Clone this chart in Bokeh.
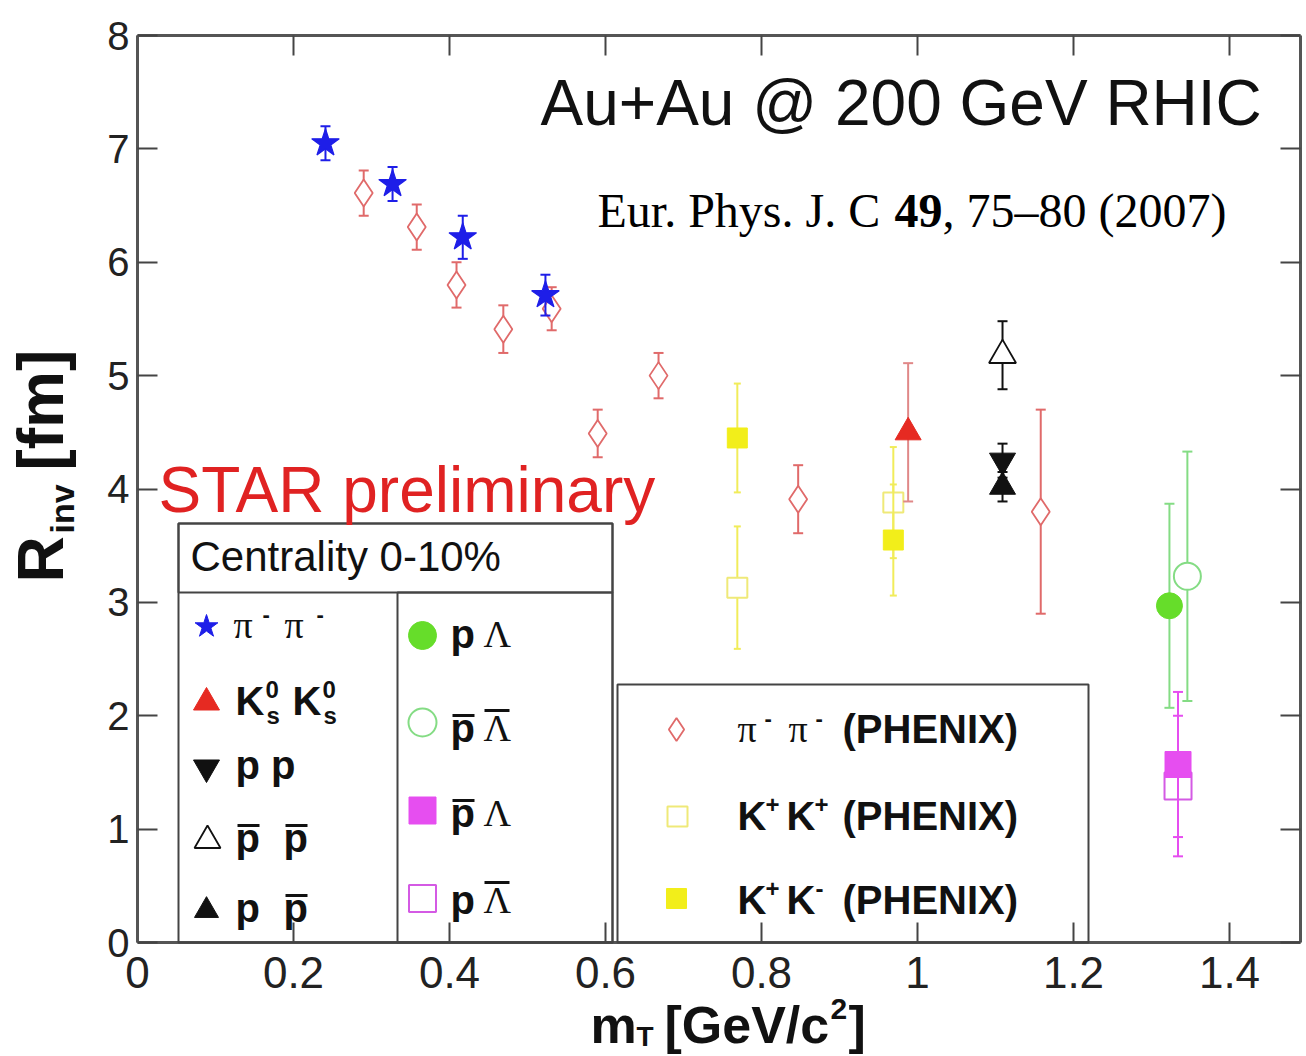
import numpy as np
from bokeh.plotting import figure
from bokeh.models import (Range1d, FixedTicker, LinearAxis, Label, BoxAnnotation,
                          CustomJSTickFormatter, ColumnDataSource)
from bokeh.embed import file_html
from bokeh.resources import INLINE

# ---------------- data: R_inv [fm] vs m_T [GeV/c^2], Au+Au 200 GeV, 0-10% ----------------
# STAR pi- pi-
star_pipi_mt = [0.241, 0.327, 0.417, 0.523]
star_pipi_r = [7.05, 6.69, 6.22, 5.71]
star_pipi_err = [0.15, 0.15, 0.19, 0.18]

# PHENIX pi- pi-
phenix_pipi_mt = [0.290, 0.358, 0.409, 0.469, 0.531, 0.590, 0.668, 0.847, 1.158]
phenix_pipi_r = [6.61, 6.31, 5.80, 5.41, 5.59, 4.49, 5.00, 3.91, 3.80]
phenix_pipi_err = [0.20, 0.20, 0.20, 0.21, 0.19, 0.21, 0.20, 0.30, 0.90]

# PHENIX K+ K+ and K+ K-
phenix_kpkp_mt = [0.769, 0.969]
phenix_kpkp_r = [3.13, 3.88]
phenix_kpkp_err = [0.54, 0.49]
phenix_kpkm_mt = [0.769, 0.969]
phenix_kpkm_r = [4.45, 3.55]
phenix_kpkm_err = [0.48, 0.49]

# STAR K0s K0s
star_k0k0_mt = [0.988]
star_k0k0_r = [4.50]
star_k0k0_err = [0.61]

# STAR proton correlations
star_pbpb_mt = [1.109]
star_pbpb_r = [5.18]
star_pbpb_err = [0.30]
star_pp_mt = [1.109]
star_pp_r = [4.25]
star_pp_err = [0.15]
star_ppb_mt = [1.109]
star_ppb_r = [4.02]
star_ppb_err = [0.13]

# STAR proton-lambda correlations
star_plam_mt = [1.323]
star_plam_r = [2.97]
star_plam_err = [0.90]
star_pblamb_mt = [1.346]
star_pblamb_r = [3.23]
star_pblamb_err = [1.10]
star_pblam_mt = [1.334]
star_pblam_r = [1.57]
star_pblam_err = [0.64]
star_plamb_mt = [1.334]
star_plamb_r = [1.38]
star_plamb_err = [0.62]

x_ticks = [0, 0.2, 0.4, 0.6, 0.8, 1.0, 1.2, 1.4]
y_ticks = [0, 1, 2, 3, 4, 5, 6, 7, 8]
X_MAX = 1.491
Y_MAX = 8

# ---------------- colours / fonts ----------------
BLUE = "#1e1ee8"
PI_RED = "#e06a6a"
YEL = "#f2ee1a"
YEL_ERR = "#f1ec5a"
YEL_OPEN = "#efe978"
K0_RED = "#e62a22"
K0_ERR = "#e08888"
BLACK = "#111111"
GREEN = "#66dd2a"
GREEN_LINE = "#84dc84"
MAG = "#e64ef0"
MAG_LINE = "#d45ae4"
FRAME = "#555555"

SANS = "Liberation Sans"
SERIF = "Liberation Serif"

# ---------------- canvas geometry ----------------
W, H = 1306, 1056
PX_X0, PX_PER_X = 137, 780.0        # pixel of m_T = 0, pixels per GeV/c^2
PX_Y0, PX_PER_Y = 942, 113.375      # pixel of R = 0, pixels per fm
BASELINE_SHIFT = 0.35               # label anchor offset, in em, to land on the baseline


def dx(px):
    return (px - PX_X0) / PX_PER_X


def dy(py):
    return (PX_Y0 - py) / PX_PER_Y


# the plotting area spans the whole canvas; axes sit at fixed data locations
p = figure(width=W, height=H, x_range=Range1d(dx(0), dx(W)), y_range=Range1d(dy(H), dy(0)),
           output_backend="svg", toolbar_location=None,
           x_axis_type=None, y_axis_type=None)
p.min_border = 0
p.min_border_left = 0
p.min_border_right = 0
p.min_border_top = 0
p.min_border_bottom = 0
p.grid.visible = False
p.outline_line_color = None
p.background_fill_color = "white"
p.border_fill_color = "white"

xt = FixedTicker(ticks=x_ticks, minor_ticks=[])
yt = FixedTicker(ticks=y_ticks, minor_ticks=[])
blank = CustomJSTickFormatter(code="return '';")


def make_axis(ticker, loc, bounds, side, labels, font_size="40px", standoff=8, fmt=None):
    ax = LinearAxis(ticker=ticker, fixed_location=loc, bounds=bounds)
    ax.axis_line_color = FRAME
    ax.axis_line_width = 3
    ax.major_tick_in = 20
    ax.major_tick_out = 0
    ax.minor_tick_in = 0
    ax.minor_tick_out = 0
    ax.major_tick_line_color = "#444444"
    ax.major_tick_line_width = 2
    ax.major_label_text_font = SANS
    ax.major_label_text_color = "#222222"
    if labels:
        ax.major_label_text_font_size = font_size
        ax.major_label_standoff = standoff
        if fmt is not None:
            ax.formatter = fmt
    else:
        ax.major_label_text_font_size = "0px"
        ax.major_label_standoff = 0
        ax.formatter = blank
    p.add_layout(ax, side)
    return ax


x_fmt = CustomJSTickFormatter(code="return (Math.round(tick * 10) / 10).toString();")
make_axis(xt, 0, (0, X_MAX), "below", True, "44px", 14, x_fmt)
make_axis(yt, 0, (0, Y_MAX), "left", True, "40px", 8)
make_axis(xt, Y_MAX, (0, X_MAX), "above", False)
make_axis(yt, X_MAX, (0, Y_MAX), "right", False)


def series(x, y, err, marker, size, fill, line, err_color, lw=2, cap=10, ew=2):
    x = np.asarray(x, float)
    y = np.asarray(y, float)
    e = np.asarray(err, float)
    src = ColumnDataSource(dict(x=x, y=y, lo=y - e, hi=y + e))
    p.segment(x0="x", y0="lo", x1="x", y1="hi", source=src, line_color=err_color, line_width=ew)
    p.scatter(x="x", y="lo", marker="dash", size=cap, line_color=err_color, line_width=ew, source=src)
    p.scatter(x="x", y="hi", marker="dash", size=cap, line_color=err_color, line_width=ew, source=src)
    p.scatter(x="x", y="y", marker=marker, size=size, fill_color=fill, line_color=line,
              line_width=lw, source=src)


# PHENIX
series(phenix_pipi_mt, phenix_pipi_r, phenix_pipi_err, "diamond", 27, "white", PI_RED, PI_RED, lw=1.8)
series(phenix_kpkp_mt, phenix_kpkp_r, phenix_kpkp_err, "square", 20, "white", YEL_OPEN, YEL_ERR, lw=2, cap=7)
series(phenix_kpkm_mt, phenix_kpkm_r, phenix_kpkm_err, "square", 20, YEL, YEL, YEL_ERR, lw=1, cap=7)
# STAR
series(star_pipi_mt, star_pipi_r, star_pipi_err, "star", 29, BLUE, BLUE, BLUE, lw=1.2)
series(star_k0k0_mt, star_k0k0_r, star_k0k0_err, "triangle", 26, K0_RED, K0_RED, K0_ERR, lw=1)
series(star_pbpb_mt, star_pbpb_r, star_pbpb_err, "triangle", 27, "white", BLACK, BLACK, lw=1.8)
series(star_pp_mt, star_pp_r, star_pp_err, "inverted_triangle", 26, BLACK, BLACK, BLACK, lw=1)
series(star_ppb_mt, star_ppb_r, star_ppb_err, "triangle", 26, BLACK, BLACK, BLACK, lw=1)
series(star_pblamb_mt, star_pblamb_r, star_pblamb_err, "circle", 27, "white", GREEN_LINE, GREEN_LINE, lw=2)
series(star_plam_mt, star_plam_r, star_plam_err, "circle", 26, GREEN, GREEN, GREEN_LINE, lw=1)
series(star_plamb_mt, star_plamb_r, star_plamb_err, "square", 27, "white", MAG_LINE, MAG, lw=2)
series(star_pblam_mt, star_pblam_r, star_pblam_err, "square", 26, MAG, MAG, MAG, lw=1)


def lab(px, py, text, size, font=SANS, style="normal", color=BLACK, vertical=False):
    # (px, py) is the start of the text baseline in canvas pixels
    shift = BASELINE_SHIFT * size
    if vertical:
        ax_, ay_, angle = px - shift, py, np.pi / 2
    else:
        ax_, ay_, angle = px, py - shift, 0.0
    p.add_layout(Label(x=dx(ax_), y=dy(ay_), text=text, text_font=font,
                       text_font_size=f"{size}px", text_font_style=style,
                       text_color=color, text_align="left", text_baseline="alphabetic",
                       angle=angle))


def bar(px0, px1, py):
    # overbar for antiparticle symbols
    p.segment(x0=[dx(px0)], y0=[dy(py)], x1=[dx(px1)], y1=[dy(py)], line_color=BLACK, line_width=3)


# ---------------- legend frames ----------------
for l, r, t, b in [(178, 612, 523, 942), (178, 612, 523, 592), (397, 612, 592, 942),
                   (617, 1088, 684, 942)]:
    p.add_layout(BoxAnnotation(left=dx(l), right=dx(r), top=dy(t), bottom=dy(b),
                               fill_alpha=0, line_color="#444444", line_alpha=1, line_width=2))


def swatch(px, py, marker, size, fill, line, lw=1.5):
    p.scatter(x=[dx(px)], y=[dy(py)], marker=marker, size=size, fill_color=fill,
              line_color=line, line_width=lw)


swatch(206, 626, "star", 24, BLUE, BLUE, 1)
swatch(206, 702, "triangle", 26, K0_RED, K0_RED, 1)
swatch(206, 767, "inverted_triangle", 26, BLACK, BLACK, 1)
swatch(207, 840, "triangle", 26, "white", BLACK, 1.8)
swatch(206, 910, "triangle", 24, BLACK, BLACK, 1)
swatch(422, 635, "circle", 28, GREEN, GREEN, 1)
swatch(422, 722, "circle", 28, "white", GREEN_LINE, 2)
swatch(422, 810, "square", 27, MAG, MAG, 1)
swatch(422, 898, "square", 27, "white", MAG_LINE, 2)
swatch(676, 729, "diamond", 23, "white", PI_RED, 1.8)
swatch(677, 816, "square", 20, "white", YEL_OPEN, 2)
swatch(676, 898, "square", 20, YEL, YEL, 1)

# STAR legend texts
lab(190, 571, "Centrality 0-10%", 42)

lab(233, 638, "π", 38, SERIF)
lab(262, 622, "-", 22, SANS, "bold")
lab(284, 638, "π", 38, SERIF)
lab(316, 622, "-", 22, SANS, "bold")

lab(235, 714, "K", 40, SANS, "bold")
lab(265, 697, "0", 24, SANS, "bold")
lab(266, 723, "s", 24, SANS, "bold")
lab(292, 714, "K", 40, SANS, "bold")
lab(322, 697, "0", 24, SANS, "bold")
lab(323, 723, "s", 24, SANS, "bold")

lab(235, 778, "p p", 40, SANS, "bold")

lab(235, 851, "p", 40, SANS, "bold")
lab(283, 851, "p", 40, SANS, "bold")
bar(237, 259, 825)
bar(285, 307, 825)

lab(235, 921, "p", 40, SANS, "bold")
lab(283, 921, "p", 40, SANS, "bold")
bar(285, 307, 895)

lab(450, 647, "p", 40, SANS, "bold")
lab(483, 647, "Λ", 38, SERIF)

lab(450, 741, "p", 40, SANS, "bold")
lab(483, 741, "Λ", 38, SERIF)
bar(452, 474, 715)
bar(484, 509, 710)

lab(450, 826, "p", 40, SANS, "bold")
lab(483, 826, "Λ", 38, SERIF)
bar(452, 474, 800)

lab(450, 913, "p", 40, SANS, "bold")
lab(483, 913, "Λ", 38, SERIF)
bar(484, 509, 882)

# PHENIX legend texts
lab(737, 742, "π", 38, SERIF)
lab(764, 726, "-", 22, SANS, "bold")
lab(788, 742, "π", 38, SERIF)
lab(815, 726, "-", 22, SANS, "bold")
lab(842, 742, "(PHENIX)", 40, SANS, "bold")

lab(737, 829, "K", 40, SANS, "bold")
lab(765, 812, "+", 24, SANS, "bold")
lab(786, 829, "K", 40, SANS, "bold")
lab(814, 812, "+", 24, SANS, "bold")
lab(842, 829, "(PHENIX)", 40, SANS, "bold")

lab(737, 913, "K", 40, SANS, "bold")
lab(765, 896, "+", 24, SANS, "bold")
lab(786, 913, "K", 40, SANS, "bold")
lab(815, 896, "-", 24, SANS, "bold")
lab(842, 913, "(PHENIX)", 40, SANS, "bold")

# ---------------- headline texts ----------------
lab(540, 125, "Au+Au @ 200 GeV RHIC", 64, SANS, color="#111111")
lab(597, 227, "Eur. Phys. J. C ", 48, SERIF, color="#000000")
lab(894, 227, "49", 48, SERIF, "bold", color="#000000")
lab(942, 227, ", 75–80 (2007)", 48, SERIF, color="#000000")
lab(158, 512, "STAR preliminary", 64, SANS, color="#e02222")

# ---------------- axis titles ----------------
lab(590, 1043, "m", 52, SANS, "bold")
lab(636, 1046, "T", 28, SANS, "bold")
lab(664, 1043, "[GeV/c", 52, SANS, "bold")
lab(830, 1019, "2", 30, SANS, "bold")
lab(848, 1043, "]", 52, SANS, "bold")

lab(63, 582, "R", 64, SANS, "bold", vertical=True)
lab(73, 533, "inv", 34, SANS, "bold", vertical=True)
lab(63, 470, "[fm]", 64, SANS, "bold", vertical=True)

open("out.html", "w").write(file_html(p, INLINE))
